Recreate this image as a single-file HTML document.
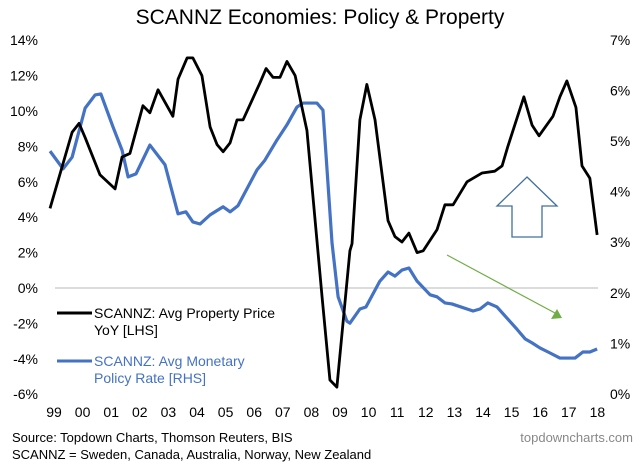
<!DOCTYPE html>
<html><head><meta charset="utf-8"><style>
body{margin:0;background:#fff;}
svg text{font-family:"Liberation Sans",Arial,sans-serif;}
</style></head><body>
<svg id="chart" width="640" height="466" viewBox="0 0 640 466" xmlns="http://www.w3.org/2000/svg">
<text x="320" y="24" font-size="21" text-anchor="middle" fill="#000">SCANNZ Economies: Policy &amp; Property</text>
<g id="axes"></g>
<g id="series"></g>
<g>
<line x1="57" y1="313" x2="92" y2="313" stroke="#000" stroke-width="3"/>
<text x="94" y="318" font-size="14">SCANNZ: Avg Property Price</text>
<text x="94" y="335" font-size="14">YoY [LHS]</text>
<line x1="57" y1="361" x2="92" y2="361" stroke="#4472c4" stroke-width="3"/>
<text x="94" y="366" font-size="14" fill="#4472c4">SCANNZ: Avg Monetary</text>
<text x="94" y="383" font-size="14" fill="#4472c4">Policy Rate [RHS]</text>
</g>
<polygon points="527,177 557,206 542,206 542,237 512,237 512,206 497,206" fill="none" stroke="#41719c" stroke-width="1.3"/>
<line x1="447" y1="255" x2="555" y2="313" stroke="#70ad47" stroke-width="1.2"/>
<polygon points="562,318 551,319 557,309" fill="#70ad47"/>
<text x="12" y="442" font-size="13">Source: Topdown Charts, Thomson Reuters, BIS</text>
<text x="12" y="459" font-size="13">SCANNZ = Sweden, Canada, Australia, Norway, New Zealand</text>
<text x="633" y="442" font-size="13" fill="#888" text-anchor="end">topdowncharts.com</text>
</svg>
<script>
const yearLabels=["99","00","01","02","03","04","05","06","07","08","09","10","11","12","13","14","15","16","17","18"];
const leftTicks=[14,12,10,8,6,4,2,0,-2,-4,-6];
const rightTicks=[7,6,5,4,3,2,1,0];
const propT=[0.10,0.83,1.06,1.26,1.75,2.25,2.48,2.74,3.17,3.40,3.67,4.16,4.33,4.63,4.82,5.12,5.39,5.62,5.82,6.05,6.28,6.48,7.04,7.24,7.47,7.70,7.93,8.20,8.59,9.09,9.35,9.58,10.01,10.08,10.34,10.57,10.84,11.27,11.50,11.73,11.96,12.23,12.43,12.89,13.15,13.42,13.88,14.38,14.80,15.04,15.23,15.76,16.03,16.26,16.72,16.95,17.18,17.48,17.68,17.94,18.18];
const propV=[4.5,8.8,9.3,8.5,6.4,5.6,7.4,7.6,10.3,9.9,11.2,9.7,11.8,13.0,13.0,12.0,9.1,8.1,7.7,8.2,9.5,9.5,11.6,12.4,11.9,11.9,12.8,12.0,8.9,-0.5,-5.2,-5.6,2.1,2.5,9.5,11.5,9.5,3.8,2.9,2.6,3.1,2.0,2.1,3.3,4.7,4.7,6.0,6.5,6.6,6.9,8.0,10.8,9.2,8.6,9.7,10.8,11.7,10.2,6.9,6.2,3.0];
const rateT=[0.10,0.53,0.83,1.26,1.59,1.78,2.18,2.48,2.68,2.94,3.40,3.90,4.33,4.59,4.82,5.06,5.39,5.82,6.05,6.31,6.94,7.20,7.60,7.93,8.26,8.46,8.92,9.12,9.42,9.62,9.91,10.01,10.34,10.54,11.00,11.27,11.50,11.73,11.96,12.23,12.66,12.89,13.15,13.38,14.08,14.31,14.57,14.87,15.53,15.80,16.03,16.29,16.56,16.95,17.45,17.71,17.94,18.18];
const rateV=[4.80,4.45,4.68,5.65,5.91,5.93,5.28,4.82,4.29,4.35,4.92,4.53,3.56,3.60,3.40,3.36,3.54,3.70,3.60,3.72,4.43,4.62,5.02,5.32,5.67,5.75,5.75,5.61,2.98,1.92,1.44,1.40,1.68,1.72,2.23,2.41,2.33,2.45,2.49,2.23,1.96,1.92,1.80,1.78,1.64,1.68,1.80,1.72,1.28,1.09,1.01,0.91,0.83,0.71,0.71,0.83,0.83,0.89];
const NS="http://www.w3.org/2000/svg";
const xS=t=>47+30.26*t;
const yL=v=>288-v*17.7;
const yR=v=>394-v*50.6;
const labelX=i=>54+28.6*i;
const axes=document.getElementById('axes'),ser=document.getElementById('series');
function mk(tag,attrs,parent){const e=document.createElementNS(NS,tag);for(const k in attrs)e.setAttribute(k,attrs[k]);parent.appendChild(e);return e;}
const zl=mk('line',{x1:55,x2:598,y1:yL(0),y2:yL(0),stroke:'#d0d0d0','stroke-width':1.5},axes);


leftTicks.forEach(v=>{const t=mk('text',{x:38,y:yL(v)+5,'font-size':14,'text-anchor':'end'},axes);t.textContent=v+'%';

});
rightTicks.forEach(v=>{const t=mk('text',{x:610,y:yR(v)+5,'font-size':14},axes);t.textContent=v+'%';

});
yearLabels.forEach((l,i)=>{const t=mk('text',{x:labelX(i),y:417,'font-size':14,'text-anchor':'middle'},axes);t.textContent=l;

});
const pb=mk('polyline',{points:rateT.map((t,i)=>xS(t)+','+yR(rateV[i])).join(' '),fill:'none',stroke:'#4472c4','stroke-width':3.2,'stroke-linejoin':'round'},ser);


const pk=mk('polyline',{points:propT.map((t,i)=>xS(t)+','+yL(propV[i])).join(' '),fill:'none',stroke:'#000','stroke-width':2.8,'stroke-linejoin':'round'},ser);


</script>
</body></html>
